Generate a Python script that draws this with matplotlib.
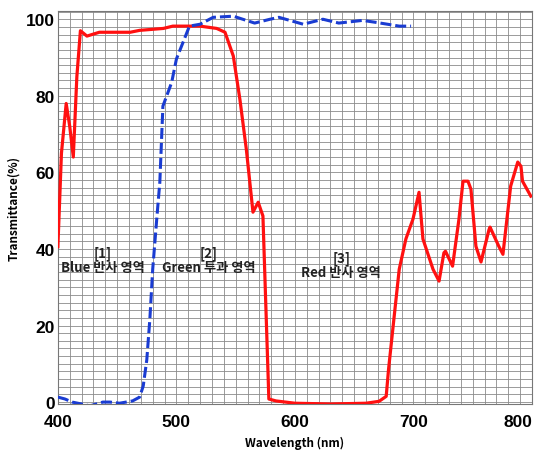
import numpy as np
import matplotlib
matplotlib.use("Agg")
import matplotlib.pyplot as plt
from matplotlib.ticker import MultipleLocator

plt.rcParams["font.family"] = ["Noto Sans CJK KR", "DejaVu Sans"]

# 반사형 필터 (빨간 실선)
red_nm = [400, 403, 407, 410, 413, 416, 419, 424.5, 435, 461, 469, 489, 497, 520, 534,
          541, 548, 553.6, 559, 564.6, 569, 573, 578, 584, 600, 630, 660, 671, 677,
          679, 683.5, 688, 693.6, 699.6, 704.7, 708, 716.5, 721.6, 725.7, 727, 733,
          738.4, 741.8, 746, 748.5, 752.7, 757, 763.7, 764.6, 772, 775.5, 782, 788,
          790.7, 792, 799]
red_t = [40.6, 65, 78, 72, 64, 85, 97, 95.6, 96.6, 96.6, 97.1, 97.6, 98.2, 98.2, 97.6,
         96.6, 90.4, 79, 66, 49.6, 52.2, 48.6, 0.8, 0.3, -0.3, -0.5, -0.3, 0.2, 1.5,
         8.6, 21.7, 34.7, 42.6, 47.8, 54.8, 42.6, 34.7, 31.6, 39, 39.4, 35.5,
         47.8, 57.7, 57.7, 55.6, 40.7, 36.6, 45, 45.7, 40.7, 38.6, 56.4, 62.7,
         61.6, 57.7, 53.8]

# 투과형 필터 (파란 점선)
blue_nm = [400, 406, 412, 420, 427, 438, 444, 452, 463, 469, 472, 475, 477.6, 480,
           483.4, 486, 488.6, 496, 500, 511, 520, 531, 548, 566, 579, 586.5, 607,
           623.6, 637, 657, 668, 688, 698]
blue_t = [1.3, 0.8, 0, -0.5, -1, 0, 0, -0.3, 0.3, 1.3, 4.2, 11, 21.7, 34.7,
          47.8, 57.4, 77.3, 83.5, 89.6, 98.2, 98.7, 100.5, 100.8, 99, 100, 100.5, 98.7,
          100, 99, 99.7, 99.2, 98.2, 98.2]

x_ticks = [400, 500, 600, 700, 800]
y_ticks = [0, 20, 40, 60, 80, 100]

labels = ["[1]\nBlue 반사 영역", "[2]\nGreen 투과 영역", "[3]\nRed 반사 영역"]
label_x = [438, 527, 639]
label_y = [37.2, 37.2, 36]

fig = plt.figure(figsize=(5.36, 4.52), dpi=100)
ax = fig.add_axes([0.108, 0.104, 0.8845, 0.869])

ax.plot(red_nm, red_t, color="#ff1010", lw=2.3, solid_joinstyle="round", zorder=3)
ax.plot(blue_nm, blue_t, color="#1a3cd2", lw=2.2, dashes=(3.6, 1.3), zorder=3)

for txt, x, y in zip(labels, label_x, label_y):
    ax.text(x, y, txt, ha="center", va="center", fontsize=9.5,
            fontweight="bold", color="#222222", linespacing=1.0, zorder=4)

ax.set_xlim(400, 800)
ax.set_ylim(-0.5, 102.1)
ax.set_xticks(x_ticks, [str(v) for v in x_ticks])
ax.set_yticks(y_ticks, [str(v) for v in y_ticks])
ax.xaxis.set_minor_locator(MultipleLocator(10))
ax.yaxis.set_minor_locator(MultipleLocator(2))
ax.grid(True, which="both", color="#8a8a8a", lw=0.6)
ax.set_axisbelow(True)
ax.tick_params(which="both", length=0, labelfontfamily="Liberation Sans",
               labelsize=12.5)
ax.tick_params(axis="x", pad=7)
ax.tick_params(axis="y", pad=2)

for t in ax.xaxis.get_major_ticks() + ax.yaxis.get_major_ticks():
    t.label1.set_fontweight("bold")
# 마지막 눈금 라벨은 오른쪽 끝에 맞춤
ax.xaxis.get_major_ticks()[-1].label1.set_horizontalalignment("right")

for s in ax.spines.values():
    s.set_color("#777777")
    s.set_linewidth(0.8)

ax.set_xlabel("Wavelength (nm)", fontsize=8.5, fontweight="bold", labelpad=5)
ax.set_ylabel("Transmittance(%)", fontsize=8.5, fontweight="bold", labelpad=4)

fig.savefig("out.png", dpi=100)
